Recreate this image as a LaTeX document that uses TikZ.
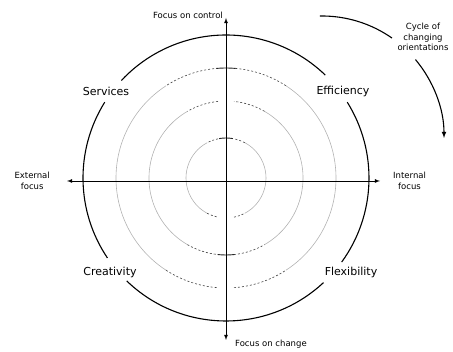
\documentclass[tikz,border=0pt]{standalone}
\usepackage{fontspec}
\setmainfont{DejaVu Sans}
\usetikzlibrary{arrows,positioning}
\tikzset{
x=1pt, y=1pt,
>=latex, % small filled heads
axis/.style={<->, line width=0.8pt},
outer/.style={line width=1.1pt},
ring/.style={gray!60, line width=0.6pt},
ringdash/.style={black!75, line width=0.6pt, dash pattern=on 2pt off 2pt},
ringtick/.style={black!85, line width=0.9pt},
quad/.style={font=\fontsize{11}{13}\selectfont},
small/.style={font=\fontsize{8.5}{10.5}\selectfont, align=center, inner sep=1pt},
}

\begin{document}
\begin{tikzpicture}
\useasboundingbox (0,0) rectangle (453,352);
\coordinate (C) at (226,174); % centre of the rings
\coordinate (N) at (226,334);
\coordinate (S) at (226,12);
\coordinate (W) at (67,171);
\coordinate (E) at (380,171);

% grey rings, dashed near the vertical axis
\foreach \r/\a [evaluate=\r as \g using {asin(8/\r)}] in {110/33, 77/30, 40/28} {
  \draw[ring] (C) ++(90+\a:\r) arc[start angle=90+\a, end angle=270-\a, radius=\r];
  \draw[ring] (C) ++(-90+\a:\r) arc[start angle=-90+\a, end angle=90-\a, radius=\r];
  \draw[ringdash] (C) ++(90-\a:\r) arc[start angle=90-\a, end angle=90-\g, radius=\r];
  \draw[ringdash] (C) ++(90+\g:\r) arc[start angle=90+\g, end angle=90+\a, radius=\r];
  \draw[ringdash] (C) ++(270-\a:\r) arc[start angle=270-\a, end angle=270-\g, radius=\r];
  \draw[ringdash] (C) ++(270+\g:\r) arc[start angle=270+\g, end angle=270+\a, radius=\r];
}
% short ticks where a ring meets the axis
\draw[ringtick] (C) ++(85:110) arc[start angle=85, end angle=95, radius=110];
\draw[ringtick] (C) ++(264:77) arc[start angle=264, end angle=276, radius=77];
\draw[ringtick] (C) ++(80:40) arc[start angle=80, end angle=100, radius=40];

% outer ring, broken at the labels
\draw[outer] (C) ++(46:143) arc[start angle=46, end angle=137, radius=143];
\draw[outer] (C) ++(148:143) arc[start angle=148, end angle=214, radius=143];
\draw[outer] (C) ++(226:143) arc[start angle=226, end angle=313, radius=143];
\draw[outer] (C) ++(324:143) arc[start angle=324, end angle=392, radius=143];

\node[quad] (serv) at (106,261) {Services};
\node[quad] (effi) at (343,261) {Efficiency};
\node[quad] (crea) at (110,80) {Creativity};
\node[quad] (flex) at (351,80) {Flexibility};

% axes
\draw[axis] (S) -- (N);
\draw[axis] (W) -- (E);
\node[small, left=2pt of N, yshift=3pt] (ctrl) {Focus on control};
\node[small, right=8pt of S, yshift=-4pt] (chng) {Focus on change};
\node[small, left=16pt of W] (ext) {External\\focus};
\node[small, right=12pt of E] (int) {Internal\\focus};

% cycle arrow
\coordinate (K) at (322,214);
\node[small] (cyc) at (423,315) {Cycle of\\changing\\orientations};
\draw[outer] (K) ++(91:122) arc[start angle=91, end angle=55, radius=122];
\draw[outer, ->] (K) ++(40:122) arc[start angle=40, end angle=0, radius=122];
\end{tikzpicture}
\end{document}
